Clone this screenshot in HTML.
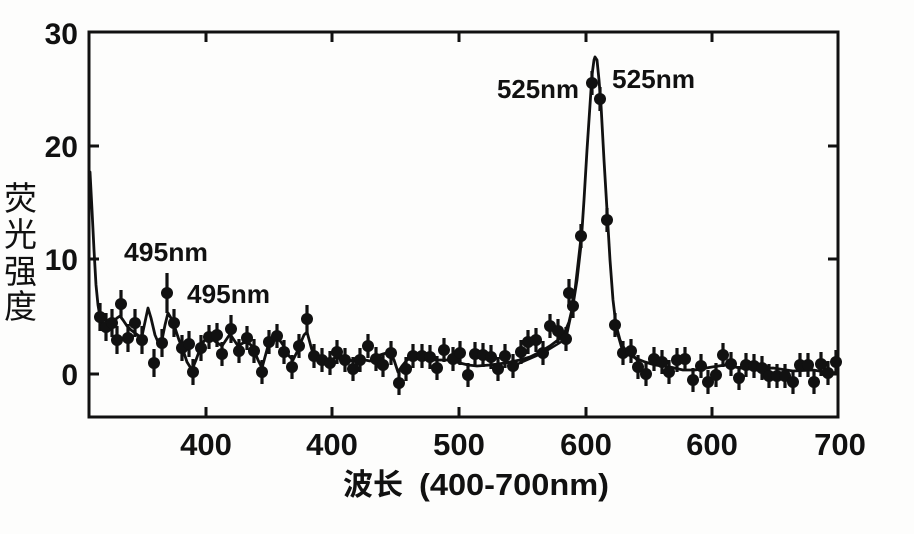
<!DOCTYPE html>
<html><head><meta charset="utf-8"><style>
html,body{margin:0;padding:0;background:#fdfdfc;}
svg{display:block;}
.t{font-family:"Liberation Sans",Arial,sans-serif;font-weight:bold;fill:#111;}
.c{font-family:"Liberation Sans","Noto Sans CJK SC",sans-serif;fill:#111;}
</style></head><body>
<svg width="914" height="534" viewBox="0 0 914 534" xmlns="http://www.w3.org/2000/svg">
<rect x="0" y="0" width="914" height="534" fill="#fdfdfc"/>
<rect x="89" y="32" width="749" height="385" fill="none" stroke="#111" stroke-width="3"/>
<path d="M206 417V407 M332 417V407 M459 417V407 M586 417V407 M712 417V407
M206 32V42 M332 32V42 M459 32V42 M586 32V42 M712 32V42
M89 146H99 M89 259H99 M89 374H99
M838 146H828 M838 259H828 M838 374H828" stroke="#111" stroke-width="3" fill="none"/>
<g class="t" font-size="30" text-anchor="end">
<text x="78" y="44">30</text>
<text x="78" y="157">20</text>
<text x="78" y="270">10</text>
<text x="78" y="385">0</text>
</g>
<g class="t" font-size="31" text-anchor="middle">
<text x="206" y="455">400</text>
<text x="332" y="455">400</text>
<text x="459" y="455">500</text>
<text x="586" y="455">600</text>
<text x="712" y="455">600</text>
<text x="840" y="455">700</text>
</g>
<text class="c" x="343" y="495" font-size="30" font-weight="bold" textLength="60" lengthAdjust="spacingAndGlyphs">波长</text>
<text class="t" x="419" y="495" font-size="31" textLength="190" lengthAdjust="spacingAndGlyphs">(400-700nm)</text>
<g class="c" font-size="33">
<text x="4" y="210">荧</text>
<text x="4" y="246">光</text>
<text x="4" y="283">强</text>
<text x="4" y="318">度</text>
</g>
<g class="t" font-size="26">
<text x="124" y="261" textLength="84" lengthAdjust="spacingAndGlyphs">495nm</text>
<text x="187" y="303" textLength="83" lengthAdjust="spacingAndGlyphs">495nm</text>
<text x="497" y="98" textLength="82" lengthAdjust="spacingAndGlyphs">525nm</text>
<text x="612" y="88" textLength="83" lengthAdjust="spacingAndGlyphs">525nm</text>
</g>
<polyline fill="none" stroke="#111" stroke-width="2.8" stroke-linejoin="round" stroke-linecap="round" points="
90,172 92,210 94,250 96,285 98,305 100,317 103,325 106,327 109,325 113,322 117,318 120,316 123,320 127,326 131,330 135,333 139,336 142,336 145,322 148,308 151,318 155,335 158,342 162,340 165,325 168,313 171,318 175,328 179,340 183,350 187,362 192,370 196,360 200,349 204,341 208,337 212,339 216,342 222,346 226,340 230,334 234,340 238,346 243,343 247,342 251,345 254,350 258,360 262,368 265,357 268,346 272,340 277,337 281,342 285,348 289,356 293,360 297,352 301,342 304,335 307,332 310,343 313,354 318,360 323,362 330,360 337,357 342,360 347,362 353,360 360,358 365,360 370,361 377,356 383,354 390,352 394,360 398,372 402,366 407,360 413,357 420,356 427,358 433,360 440,360 447,360 453,361 460,363 468,365 477,366 490,365 505,363 520,360 530,357 540,352 550,346 558,340 564,334 569,322 573,305 577,280 581,245 584,200 587,150 590,105 592,75 594,60 595,57 597,60 599,80 601,105 604,160 607,210 610,260 613,300 616,325 620,340 624,348 628,353 635,358 645,362 655,365 670,367 683,370 695,370 712,367 725,365 740,368 750,369 773,368 793,371 813,370 832,373 838,372"/>
<polyline fill="none" stroke="#111" stroke-width="2.4" stroke-linejoin="round" points="513,366 543,353 566,339 573,306 581,236"/>
<polyline fill="none" stroke="#111" stroke-width="2.4" stroke-linejoin="round" points="615,325 623,353 631,351 638,362"/>
<path fill="none" stroke="#111" stroke-width="3.2" d="
M100 303V331 M106 313V341 M112 309V337 M117 326V354 M121 290V318 M128 324V352 M135 309V337 M142 326V354 M154 349V377 M162 329V357
M167 273V313 M174 309V337 M182 335V361 M189 331V357 M193 359V385 M201 335V361 M209 325V349 M217 323V347 M222 342V366 M231 315V343
M239 339V363 M247 326V350 M254 339V363 M262 360V384 M269 330V354 M277 324V348 M284 340V364 M292 355V379 M299 334V358 M307 305V333
M314 344V368 M322 348V372 M330 351V375 M337 340V364 M345 348V372 M353 357V381 M360 348V372 M368 334V358 M376 347V371 M383 353V377
M391 341V365 M399 371V395 M406 357V381 M413 344V368 M422 344V368 M430 345V369 M437 356V380 M444 338V362 M453 347V371 M460 341V365
M468 363V387 M475 342V366 M483 343V367 M491 345V369 M498 357V381 M505 344V368 M513 354V378 M521 340V364 M528 330V354 M536 328V352
M543 341V365 M550 314V338 M558 319V343 M566 327V351 M569 279V307 M573 294V318 M581 224V248 M592 71V95 M600 87V111 M607 208V232
M615 313V337 M623 341V365 M631 339V363 M638 355V379 M646 362V386 M654 347V371 M662 350V374 M669 360V384 M677 348V372 M685 347V371
M693 368V392 M701 354V378 M708 370V394 M716 363V387 M723 343V367 M731 352V376 M739 366V390 M746 353V377 M754 354V378 M762 356V380
M769 364V388 M777 364V388 M785 364V388 M793 370V394 M800 353V377 M808 353V377 M814 370V394 M821 352V376 M828 361V385 M836 350V374"/>
<g fill="#111">
<circle cx="100" cy="317" r="6"/><circle cx="106" cy="327" r="6"/><circle cx="112" cy="323" r="6"/><circle cx="117" cy="340" r="6"/><circle cx="121" cy="304" r="6"/>
<circle cx="128" cy="338" r="6"/><circle cx="135" cy="323" r="6"/><circle cx="142" cy="340" r="6"/><circle cx="154" cy="363" r="6"/><circle cx="162" cy="343" r="6"/>
<circle cx="167" cy="293" r="6"/><circle cx="174" cy="323" r="6"/><circle cx="182" cy="348" r="6"/><circle cx="189" cy="344" r="6"/><circle cx="193" cy="372" r="6"/>
<circle cx="201" cy="348" r="6"/><circle cx="209" cy="337" r="6"/><circle cx="217" cy="335" r="6"/><circle cx="222" cy="354" r="6"/><circle cx="231" cy="329" r="6"/>
<circle cx="239" cy="351" r="6"/><circle cx="247" cy="338" r="6"/><circle cx="254" cy="351" r="6"/><circle cx="262" cy="372" r="6"/><circle cx="269" cy="342" r="6"/>
<circle cx="277" cy="336" r="6"/><circle cx="284" cy="352" r="6"/><circle cx="292" cy="367" r="6"/><circle cx="299" cy="346" r="6"/><circle cx="307" cy="319" r="6"/>
<circle cx="314" cy="356" r="6"/><circle cx="322" cy="360" r="6"/><circle cx="330" cy="363" r="6"/><circle cx="337" cy="352" r="6"/><circle cx="345" cy="360" r="6"/>
<circle cx="353" cy="369" r="6"/><circle cx="360" cy="360" r="6"/><circle cx="368" cy="346" r="6"/><circle cx="376" cy="359" r="6"/><circle cx="383" cy="365" r="6"/>
<circle cx="391" cy="353" r="6"/><circle cx="399" cy="383" r="6"/><circle cx="406" cy="369" r="6"/><circle cx="413" cy="356" r="6"/><circle cx="422" cy="356" r="6"/>
<circle cx="430" cy="357" r="6"/><circle cx="437" cy="368" r="6"/><circle cx="444" cy="350" r="6"/><circle cx="453" cy="359" r="6"/><circle cx="460" cy="353" r="6"/>
<circle cx="468" cy="375" r="6"/><circle cx="475" cy="354" r="6"/><circle cx="483" cy="355" r="6"/><circle cx="491" cy="357" r="6"/><circle cx="498" cy="369" r="6"/>
<circle cx="505" cy="356" r="6"/><circle cx="513" cy="366" r="6"/><circle cx="521" cy="352" r="6"/><circle cx="528" cy="342" r="6"/><circle cx="536" cy="340" r="6"/>
<circle cx="543" cy="353" r="6"/><circle cx="550" cy="326" r="6"/><circle cx="558" cy="331" r="6"/><circle cx="566" cy="339" r="6"/><circle cx="569" cy="293" r="6"/>
<circle cx="573" cy="306" r="6"/><circle cx="581" cy="236" r="6"/><circle cx="592" cy="83" r="6"/><circle cx="600" cy="99" r="6"/><circle cx="607" cy="220" r="6"/>
<circle cx="615" cy="325" r="6"/><circle cx="623" cy="353" r="6"/><circle cx="631" cy="351" r="6"/><circle cx="638" cy="367" r="6"/><circle cx="646" cy="374" r="6"/>
<circle cx="654" cy="359" r="6"/><circle cx="662" cy="362" r="6"/><circle cx="669" cy="372" r="6"/><circle cx="677" cy="360" r="6"/><circle cx="685" cy="359" r="6"/>
<circle cx="693" cy="380" r="6"/><circle cx="701" cy="366" r="6"/><circle cx="708" cy="382" r="6"/><circle cx="716" cy="375" r="6"/><circle cx="723" cy="355" r="6"/>
<circle cx="731" cy="364" r="6"/><circle cx="739" cy="378" r="6"/><circle cx="746" cy="365" r="6"/><circle cx="754" cy="366" r="6"/><circle cx="762" cy="368" r="6"/>
<circle cx="769" cy="376" r="6"/><circle cx="777" cy="376" r="6"/><circle cx="785" cy="376" r="6"/><circle cx="793" cy="382" r="6"/><circle cx="800" cy="365" r="6"/>
<circle cx="808" cy="365" r="6"/><circle cx="814" cy="382" r="6"/><circle cx="821" cy="364" r="6"/><circle cx="828" cy="373" r="6"/><circle cx="836" cy="362" r="6"/>
</g>
</svg>
</body></html>
